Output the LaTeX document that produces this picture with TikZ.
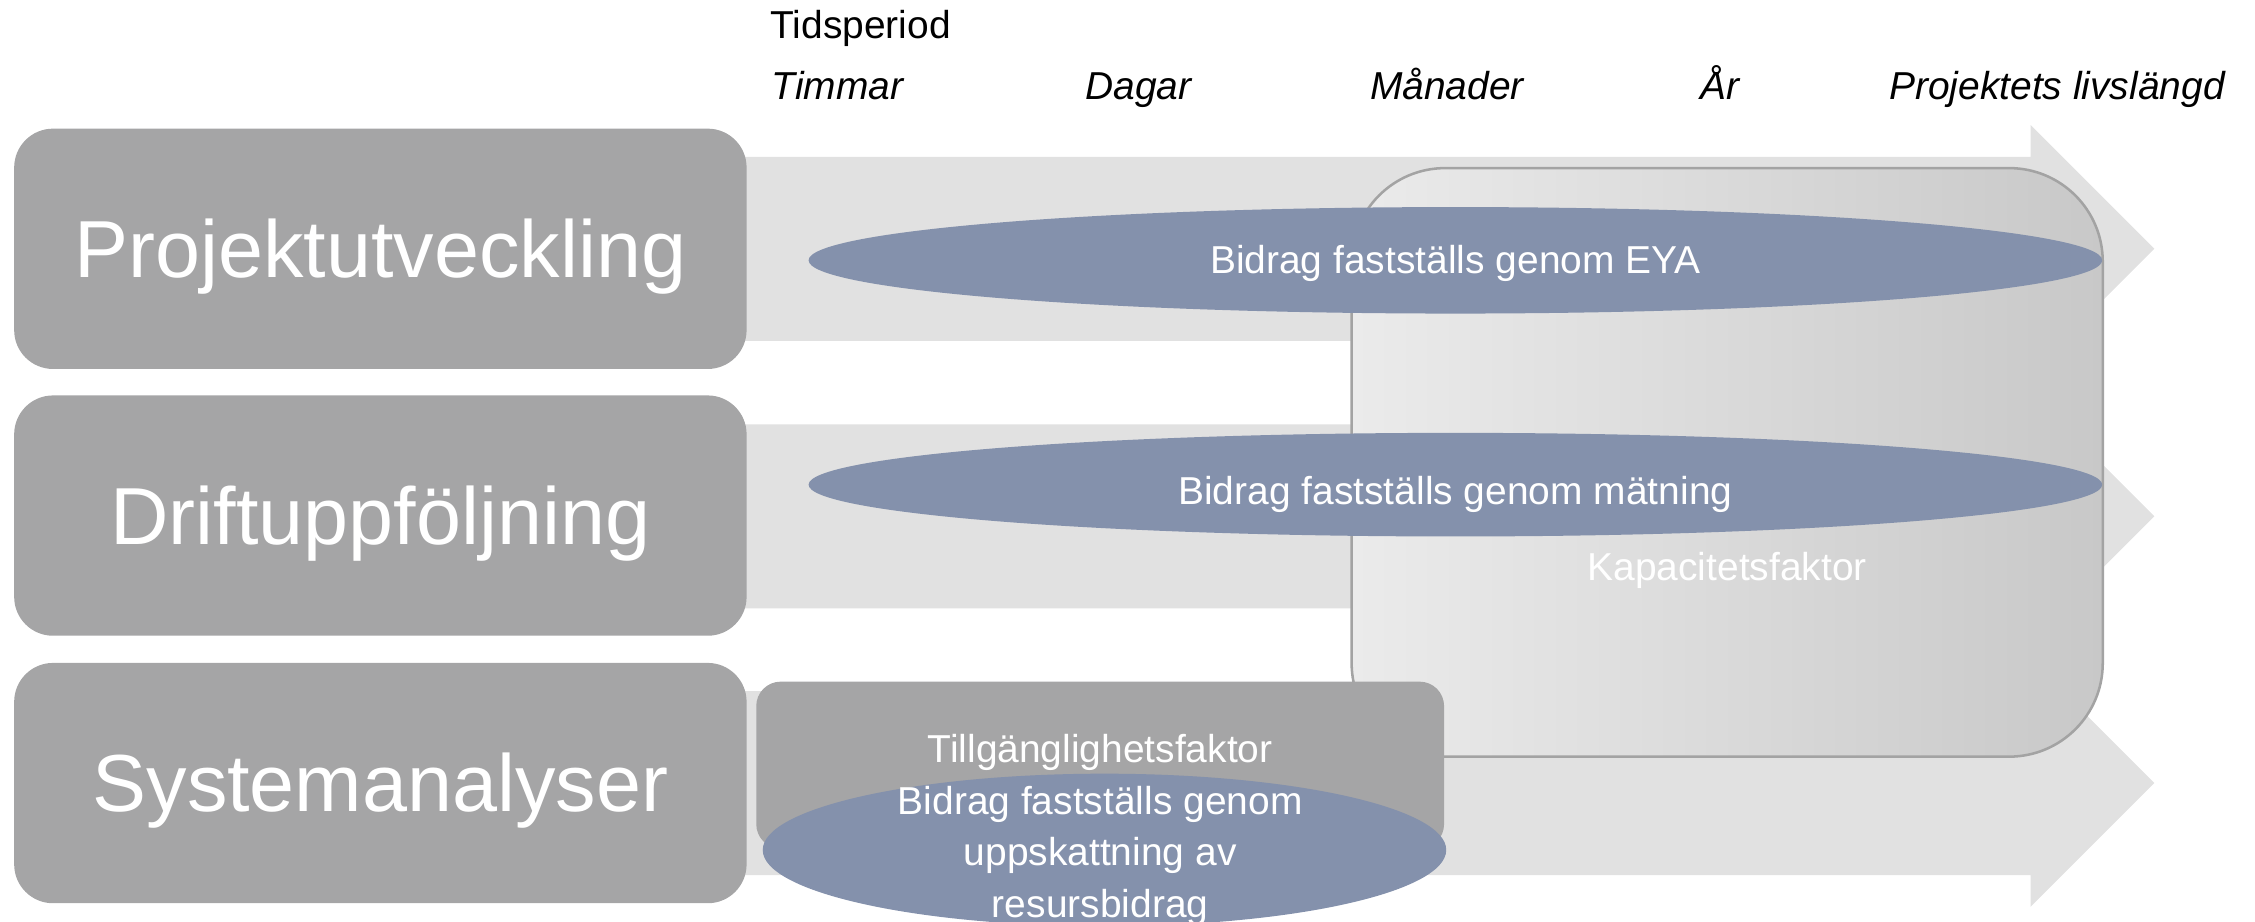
\documentclass[tikz,border=0pt]{standalone}
\usepackage{fontspec}
\setmainfont{Liberation Sans}
\usetikzlibrary{shapes.geometric}
\definecolor{boxgray}{HTML}{A5A5A6}
\definecolor{bandgray}{HTML}{E1E1E1}
\definecolor{blobblue}{HTML}{8491AC}
\definecolor{capleft}{HTML}{EBEBEB}
\definecolor{capright}{HTML}{C8C8C8}
\definecolor{capline}{HTML}{A3A3A3}

\begin{document}
\begin{tikzpicture}[x=0.01cm,y=0.01cm,
  lane/.style={rectangle,rounded corners=0.27cm,fill=boxgray,text=white,
    minimum width=5.09cm,minimum height=1.67cm,inner sep=0pt,
    text height=0.4cm,text depth=0cm,font=\fontsize{16}{19}\selectfont},
  blob/.style={ellipse,fill=blobblue,text=white,inner sep=0pt,
    text height=0.19cm,text depth=0cm,font=\fontsize{7.7}{10.2}\selectfont},
  band/.style={fill=bandgray},
  period/.style={anchor=base west,inner sep=0pt,font=\fontsize{7.7}{9}\selectfont\itshape}]
\useasboundingbox (0,0) rectangle (1568,641);

% band arrows
\fill[band] (500,532) -- (1412,532) -- (1412,554) -- (1498,468) -- (1412,382) -- (1412,404) -- (500,404) -- cycle;
\fill[band] (500,346) -- (1412,346) -- (1412,368) -- (1498,282) -- (1412,196) -- (1412,218) -- (500,218) -- cycle;
\fill[band] (500,160.5) -- (1412,160.5) -- (1412,182.5) -- (1498,96.5) -- (1412,10.5) -- (1412,32.5) -- (500,32.5) -- cycle;

% lanes
\node[lane] (proj) at (264.5,468) {Projektutveckling};
\node[lane] (drift) at (264.5,282.5) {Driftuppföljning};
\node[lane] (syst) at (264.5,96.5) {Systemanalyser};

% capacity block
\node[rectangle,rounded corners=0.65cm,draw=capline,line width=0.5pt,
  left color=capleft,right color=capright,
  minimum width=5.22cm,minimum height=4.09cm,inner sep=0pt] (kap) at (1201,319.5) {};

\node[blob,minimum width=8.99cm,minimum height=0.74cm] (eya) at (1012,460) {Bidrag fastställs genom EYA};
\node[blob,minimum width=8.99cm,minimum height=0.72cm,text height=0.27cm] (matning) at (1012,304) {Bidrag fastställs genom mätning};

% availability block
\node[rectangle,rounded corners=0.17cm,fill=boxgray,
  minimum width=4.78cm,minimum height=1.16cm,inner sep=0pt] (tillg) at (765,109) {};
\node[blob,minimum width=4.75cm,minimum height=1.06cm] (resurs) at (768,50) {};

\node[text=white,inner sep=0pt,text height=0.19cm,text depth=0cm,
  font=\fontsize{7.7}{10.2}\selectfont] (kaptext) at (1201,247) {Kapacitetsfaktor};
\node[align=center,text=white,inner sep=0pt,
  font=\fontsize{7.7}{10.2}\selectfont] (tillgtext) at (765,64) {Tillgänglighetsfaktor\\Bidrag fastställs genom\\uppskattning av\\resursbidrag};

% time axis
\node[anchor=base west,inner sep=0pt,font=\fontsize{7.7}{9}\selectfont] (tid) at (535,614) {Tidsperiod};
\node[period] (timmar) at (536,572) {Timmar};
\node[period] (dagar) at (754,572) {Dagar};
\node[period] (manader) at (952,572) {Månader};
\node[period] (ar) at (1182,572) {År};
\node[period] (livs) at (1313,572) {Projektets livslängd};
\end{tikzpicture}
\end{document}
